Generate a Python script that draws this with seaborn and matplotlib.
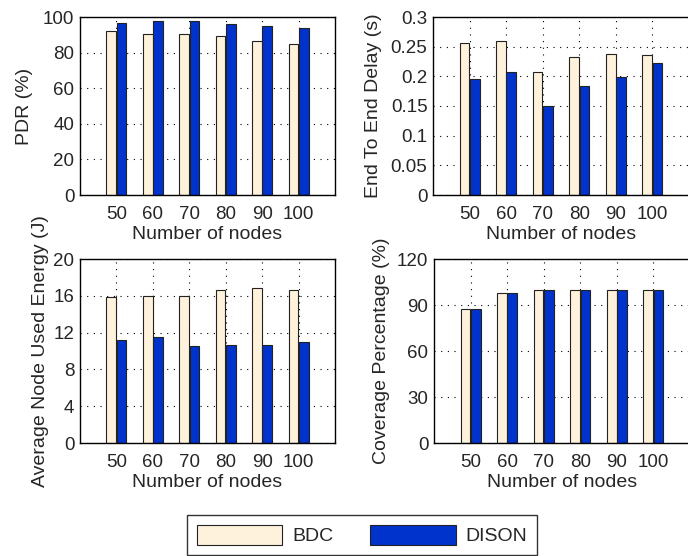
import matplotlib
matplotlib.use("Agg")
import matplotlib.pyplot as plt
import seaborn as sns
import pandas as pd
from matplotlib.patches import Patch

nodes = ["50", "60", "70", "80", "90", "100"]
series = ["BDC", "DISON"]

pdr_bdc = [92.0, 90.7, 90.7, 89.5, 86.3, 84.8]
pdr_dison = [96.8, 97.6, 97.8, 96.1, 95.1, 93.6]

delay_bdc = [0.257, 0.260, 0.208, 0.232, 0.238, 0.236]
delay_dison = [0.195, 0.207, 0.150, 0.183, 0.199, 0.222]

energy_bdc = [15.9, 15.93, 15.93, 16.6, 16.87, 16.58]
energy_dison = [11.16, 11.53, 10.5, 10.6, 10.6, 10.95]

cov_bdc = [87.1, 97.8, 99.9, 99.9, 99.9, 99.5]
cov_dison = [87.1, 97.8, 100.0, 100.0, 100.0, 100.0]

ylabels = ["PDR (%)", "End To End Delay (s)", "Average Node Used Energy (J)", "Coverage Percentage (%)"]
yticks_list = [
    [0, 20, 40, 60, 80, 100],
    [0, 0.05, 0.1, 0.15, 0.2, 0.25, 0.3],
    [0, 4, 8, 12, 16, 20],
    [0, 30, 60, 90, 120],
]
ytick_labels = [
    ["0", "20", "40", "60", "80", "100"],
    ["0", "0.05", "0.1", "0.15", "0.2", "0.25", "0.3"],
    ["0", "4", "8", "12", "16", "20"],
    ["0", "30", "60", "90", "120"],
]
xlabel = "Number of nodes"

colors = {"BDC": "#FFF2DC", "DISON": "#0033CC"}

sns.set_style("white")
plt.rcParams["font.family"] = ["Liberation Sans", "DejaVu Sans"]

fig = plt.figure(figsize=(6.88, 5.56), dpi=100)
W = 688.0
H = 556.0
rects = [
    (80, 17, 255, 178),
    (433, 17, 256, 178),
    (80, 259, 255, 184),
    (434, 259, 256, 184),
]
data_sets = [
    (pdr_bdc, pdr_dison),
    (delay_bdc, delay_dison),
    (energy_bdc, energy_dison),
    (cov_bdc, cov_dison),
]
ylabel_pads = [7, 6, 3, 5]

for i, ((l, t, w, h), (a, b)) in enumerate(zip(rects, data_sets)):
    ax = fig.add_axes([l / W, 1 - (t + h) / H, w / W, h / H])
    df = pd.DataFrame({
        "nodes": nodes * 2,
        "value": list(a) + list(b),
        "series": [series[0]] * len(nodes) + [series[1]] * len(nodes),
    })
    sns.barplot(data=df, x="nodes", y="value", hue="series", order=nodes,
                hue_order=series, palette=colors, width=0.56, gap=0.05,
                edgecolor="#222222", linewidth=0.8, legend=False, ax=ax,
                errorbar=None, saturation=1)
    ax.set_xlim(-1, 6)
    yt = yticks_list[i]
    ax.set_ylim(yt[0], yt[-1])
    ax.set_yticks(yt)
    ax.set_yticklabels(ytick_labels[i])
    ax.set_ylabel(ylabels[i], fontsize=14, labelpad=ylabel_pads[i])
    ax.set_xlabel(xlabel, fontsize=14, labelpad=2)
    ax.tick_params(axis="both", labelsize=13.5, length=0)
    ax.tick_params(axis="x", pad=8)
    ax.tick_params(axis="y", pad=4)
    ax.grid(True, linestyle=(0, (1, 5)), color="black", linewidth=0.8)
    ax.set_axisbelow(True)
    for s in ax.spines.values():
        s.set_color("black")
        s.set_linewidth(1.0)

handles = [Patch(facecolor=colors[s], edgecolor="#222222", linewidth=0.8, label=s) for s in series]
leg = fig.legend(handles=handles, loc="center", bbox_to_anchor=(362 / W, 1 - 535 / H),
                 ncol=2, fontsize=14, frameon=True, fancybox=False,
                 handlelength=4.4, handleheight=1.25, handletextpad=0.5,
                 columnspacing=1.9, borderpad=0.5)
leg.get_frame().set_edgecolor("black")
leg.get_frame().set_linewidth(1.0)

fig.savefig("out.png", dpi=100)
